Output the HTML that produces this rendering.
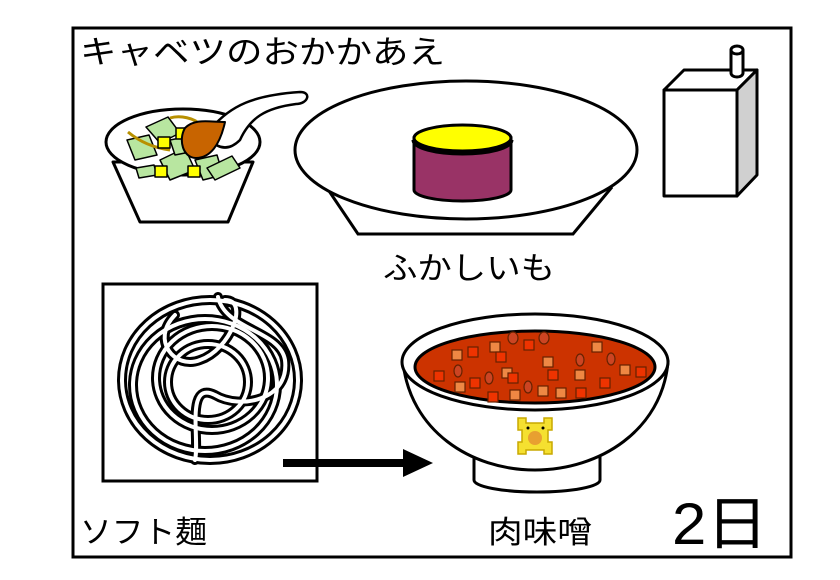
<!DOCTYPE html>
<html><head><meta charset="utf-8"><style>
body{margin:0;background:#fff;width:840px;height:580px;overflow:hidden}
svg{display:block}
text{font-family:"Liberation Sans","Noto Sans CJK JP",sans-serif;fill:#000}
</style></head><body>
<svg width="840" height="580" viewBox="0 0 840 580" xmlns="http://www.w3.org/2000/svg">
<rect x="73" y="28" width="718" height="529" fill="#fff" stroke="#000" stroke-width="3"/>
<text x="80" y="63" font-size="32" textLength="365" lengthAdjust="spacingAndGlyphs">キャベツのおかかあえ</text>
<text x="383" y="279" font-size="31" textLength="172" lengthAdjust="spacingAndGlyphs">ふかしいも</text>
<text x="80" y="543" font-size="31" textLength="127" lengthAdjust="spacingAndGlyphs">ソフト麺</text>
<text x="488" y="543" font-size="31" textLength="104" lengthAdjust="spacingAndGlyphs">肉味噌</text>
<text x="672" y="544" font-size="58" textLength="96" lengthAdjust="spacingAndGlyphs">2日</text>

<!-- salad bowl -->
<g stroke="#000" stroke-width="3" stroke-linejoin="round">
<path d="M113,162 L140,222 L228,222 L253,162 Z" fill="#fff"/>
<ellipse cx="183" cy="142" rx="77" ry="33" fill="#fff"/>
<g stroke-width="1.5" fill="#b8e6a0">
<path d="M127,140 l22,-5 l8,20 l-22,5 z"/>
<path d="M146,127 l22,-10 l12,16 l-20,10 z"/>
<path d="M136,168 l18,-3 l3,10 l-18,3 z"/>
<path d="M160,160 l25,-12 l10,22 l-25,10 z"/>
<path d="M195,160 l22,-5 l6,20 l-20,5 z"/>
<path d="M207,168 l25,-12 l8,12 l-25,12 z"/>
<path d="M170,140 l25,-5 l5,15 l-25,5 z"/>
</g>
<path d="M128,132 C140,142 155,148 170,150" fill="none" stroke="#b89000" stroke-width="3"/>
<path d="M170,118 C180,115 195,118 200,125" fill="none" stroke="#b89000" stroke-width="3"/>
<g stroke-width="1.5" fill="#ff0">
<rect x="158" y="137" width="12" height="11"/>
<rect x="176" y="128" width="12" height="11"/>
<rect x="155" y="166" width="12" height="11"/>
<rect x="188" y="166" width="12" height="11"/>
</g>
<path d="M210,130 C230,105 255,95 300,92 C312,92 308,104 296,104 C265,108 250,118 240,140 C230,150 220,150 210,140 Z" fill="#fff" stroke-width="2.5"/>
<path d="M225,122 C220,145 210,158 196,158 C183,158 178,140 185,128 C195,118 210,122 225,122 Z" fill="#c86400" stroke-width="2"/>
</g>

<!-- plate with sweet potato -->
<g stroke="#000" stroke-width="3">
<path d="M325,185 L358,234 L573,234 L612,187" fill="#fff"/>
<ellipse cx="466" cy="150" rx="171" ry="69" fill="#fff"/>
<path d="M414,138 L414,190 A48.5,11 0 0 0 511,190 L511,138 Z" fill="#993366"/>
<ellipse cx="462.5" cy="138" rx="48.5" ry="13" fill="#ff0"/>
<path d="M414,140 A48.5,13 0 0 0 511,140" fill="none" stroke-width="5"/>
</g>

<!-- milk carton -->
<g stroke="#000" stroke-width="3" stroke-linejoin="round">
<path d="M664,90 L684,70 L757,70 L737,90 Z" fill="#fff"/>
<path d="M737,90 L757,70 L757,175 L737,196 Z" fill="#d0d0d0"/>
<rect x="664" y="90" width="73" height="106" fill="#fff"/>
<path d="M731,50 L731,73 A6,4 0 0 0 743,73 L743,50" fill="#fff"/>
<ellipse cx="737" cy="50" rx="6" ry="4" fill="#fff"/>
</g>

<!-- noodles -->
<rect x="103" y="284" width="214" height="197" fill="#fff" stroke="#000" stroke-width="3"/>
<g fill="none" stroke-linecap="round">
<g stroke="#000" stroke-width="10">
<ellipse cx="210" cy="380" rx="88" ry="80"/>
<ellipse cx="205" cy="385" rx="72" ry="66"/>
<ellipse cx="212" cy="378" rx="56" ry="52"/>
<ellipse cx="208" cy="382" rx="40" ry="38"/>
<path d="M218,297 C225,330 280,330 285,360 C290,400 240,410 215,395 C185,380 200,440 195,460"/>
<path d="M175,315 C150,340 175,370 200,360 C230,350 250,300 225,300"/>
</g>
<g stroke="#fff" stroke-width="4">
<ellipse cx="210" cy="380" rx="88" ry="80"/>
<ellipse cx="205" cy="385" rx="72" ry="66"/>
<ellipse cx="212" cy="378" rx="56" ry="52"/>
<ellipse cx="208" cy="382" rx="40" ry="38"/>
<path d="M218,297 C225,330 280,330 285,360 C290,400 240,410 215,395 C185,380 200,440 195,460"/>
<path d="M175,315 C150,340 175,370 200,360 C230,350 250,300 225,300"/>
</g>
</g>

<!-- arrow -->
<rect x="283" y="459" width="122" height="8" fill="#000"/>
<path d="M403,449 L433,463 L403,477 Z" fill="#000"/>

<!-- miso bowl -->
<g stroke="#000" stroke-width="3">
<path d="M474,455 L474,480 A63,12 0 0 0 600,480 L600,455" fill="#fff"/>
<path d="M403,362 C410,430 470,470 535,470 C600,470 662,430 668,362 Z" fill="#fff"/>
<ellipse cx="535" cy="362" rx="133" ry="48" fill="#fff"/>
<ellipse cx="535" cy="367" rx="120" ry="36" fill="#cc3300"/>
</g>
<g stroke="#662200" stroke-width="1.2">
<g fill="#ee8844">
<rect x="452" y="350" width="10" height="10"/><rect x="490" y="342" width="10" height="10"/>
<rect x="543" y="357" width="10" height="10"/><rect x="592" y="342" width="10" height="10"/>
<rect x="502" y="368" width="10" height="10"/><rect x="455" y="382" width="10" height="10"/>
<rect x="510" y="390" width="10" height="10"/><rect x="575" y="370" width="10" height="10"/>
<rect x="620" y="365" width="10" height="10"/><rect x="538" y="386" width="10" height="10"/>
<rect x="556" y="388" width="10" height="10"/>
</g>
<g fill="#ee3300">
<rect x="468" y="347" width="10" height="10"/><rect x="496" y="352" width="10" height="10"/>
<rect x="524" y="340" width="10" height="10"/><rect x="548" y="370" width="10" height="10"/>
<rect x="434" y="371" width="10" height="10"/><rect x="470" y="378" width="10" height="10"/>
<rect x="508" y="373" width="10" height="10"/><rect x="600" y="378" width="10" height="10"/>
<rect x="636" y="367" width="10" height="10"/><rect x="488" y="392" width="10" height="10"/>
<rect x="576" y="388" width="10" height="10"/>
</g>
<g fill="#cc4422">
<ellipse cx="513" cy="338" rx="5" ry="6"/><ellipse cx="544" cy="338" rx="5" ry="6"/>
<ellipse cx="458" cy="371" rx="4" ry="6"/><ellipse cx="489" cy="378" rx="4" ry="6"/>
<ellipse cx="580" cy="360" rx="4" ry="6"/><ellipse cx="611" cy="359" rx="4" ry="6"/>
<ellipse cx="528" cy="387" rx="4" ry="6"/>
</g>
</g>
<g>
<path d="M518,418 h8 v5 h18 v-5 h8 v12 h-4 v12 h4 v12 h-8 v-4 h-18 v4 h-8 v-12 h4 v-12 h-4 z" fill="#f5e030" stroke="#c8a800" stroke-width="1.5"/>
<circle cx="535" cy="438" r="7" fill="#e8a030"/>
<circle cx="528" cy="428" r="1.5" fill="#000"/><circle cx="543" cy="428" r="1.5" fill="#000"/>
</g>
</svg>
</body></html>
